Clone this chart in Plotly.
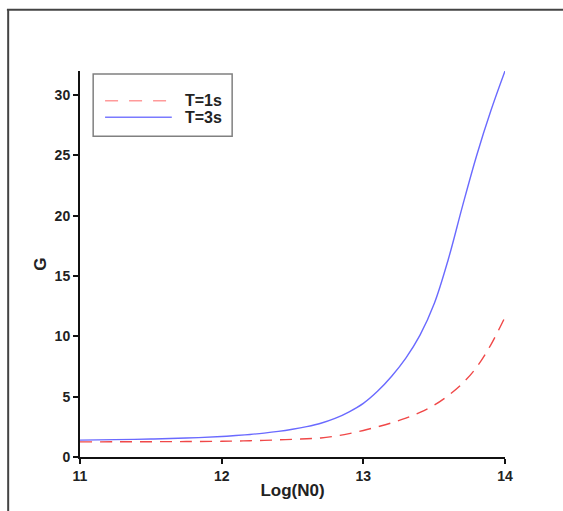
import plotly.graph_objects as go

# Gain G versus Log(N0) for two exposure times
logn0_t1 = [11.0, 11.25, 11.5, 11.75, 12.0, 12.1, 12.2, 12.3, 12.4, 12.5, 12.6, 12.7,
            12.8, 12.9, 13.0, 13.1, 13.2, 13.3, 13.4, 13.5, 13.6, 13.7, 13.8, 13.9, 14.0]
g_t1 = [1.25, 1.26, 1.27, 1.28, 1.3, 1.32, 1.35, 1.38, 1.42, 1.46, 1.51, 1.58,
        1.73, 1.94, 2.2, 2.5, 2.83, 3.22, 3.7, 4.3, 5.1, 6.1, 7.45, 9.3, 11.6]

logn0_t3 = [11.0, 11.25, 11.5, 11.75, 12.0, 12.1, 12.2, 12.3, 12.4, 12.5, 12.6, 12.7,
            12.8, 12.9, 13.0, 13.1, 13.2, 13.3, 13.4, 13.5, 13.6, 13.7, 13.8, 13.9, 14.0]
g_t3 = [1.4, 1.44, 1.49, 1.57, 1.7, 1.78, 1.87, 1.98, 2.12, 2.3, 2.52, 2.8,
        3.2, 3.75, 4.45, 5.45, 6.7, 8.2, 10.1, 12.7, 16.4, 20.8, 25.0, 28.7, 32.0]

x_ticks = [11, 12, 13, 14]
y_ticks = [0, 5, 10, 15, 20, 25, 30]

series_names = ["T=1s", "T=3s"]
series_colors = ["#f04848", "#6a6aff"]
legend_colors = ["#ff9a9a", "#7a7aff"]
series_dash = ["12px,8px", "solid"]

FONT = "Liberation Sans, Arial, sans-serif"
INK = "#222222"

fig = go.Figure()
for xs, ys, name, color, dash in zip([logn0_t1, logn0_t3], [g_t1, g_t3],
                                     series_names, series_colors, series_dash):
    fig.add_trace(go.Scatter(
        x=xs, y=ys, mode="lines", name=name, showlegend=False,
        line=dict(color=color, width=1.4, dash=dash, shape="spline", smoothing=1.0),
    ))

tick_font = dict(family=FONT, size=14, color=INK, weight="bold")
title_font = dict(family=FONT, size=17, color=INK, weight="bold")

fig.update_xaxes(
    range=[11, 14], tickvals=x_ticks, ticks="outside", ticklen=5, tickwidth=2,
    tickcolor="#111111", showline=True, linecolor="#111111", linewidth=2,
    showgrid=False, zeroline=False, tickfont=tick_font,
    title=dict(text="Log(N0)", font=title_font, standoff=1),
)
fig.update_yaxes(
    range=[0, 32], tickvals=y_ticks, ticks="outside", ticklen=5, tickwidth=2,
    tickcolor="#111111", showline=True, linecolor="#111111", linewidth=2,
    showgrid=False, zeroline=False, tickfont=tick_font,
    title=dict(text="G", font=title_font, standoff=4),
)

# Frame around the figure (top and left edges)
frame = dict(color="#444444", width=2)
fig.add_shape(type="line", xref="paper", yref="paper", x0=-0.172, x1=1.14, y0=1.159, y1=1.159, line=frame)
fig.add_shape(type="line", xref="paper", yref="paper", x0=-0.169, x1=-0.169, y0=1.159, y1=-0.15, line=frame)

# Legend box with line samples and labels
box_x0, box_x1, box_y0, box_y1 = 0.031, 0.358, 0.831, 0.992
fig.add_shape(type="rect", xref="paper", yref="paper", x0=box_x0, x1=box_x1, y0=box_y0, y1=box_y1,
              line=dict(color="#808080", width=1.5), fillcolor="white", layer="above")
row_y = [0.923, 0.880]
for ry, name, color, dash in zip(row_y, series_names, legend_colors, series_dash):
    fig.add_shape(type="line", xref="paper", yref="paper", x0=0.059, x1=0.216, y0=ry, y1=ry,
                  line=dict(color=color, width=1.6, dash="13px,11px" if dash != "solid" else "solid"),
                  layer="above")
    fig.add_annotation(xref="paper", yref="paper", x=0.242, y=ry, text=name, showarrow=False,
                       xanchor="left", yanchor="middle", font=dict(family=FONT, size=16, color=INK, weight="bold"))

fig.update_layout(
    width=563, height=511,
    margin=dict(l=80, r=58, t=71, b=54),
    paper_bgcolor="white", plot_bgcolor="white",
    showlegend=False,
)

fig.write_html("out.html")
